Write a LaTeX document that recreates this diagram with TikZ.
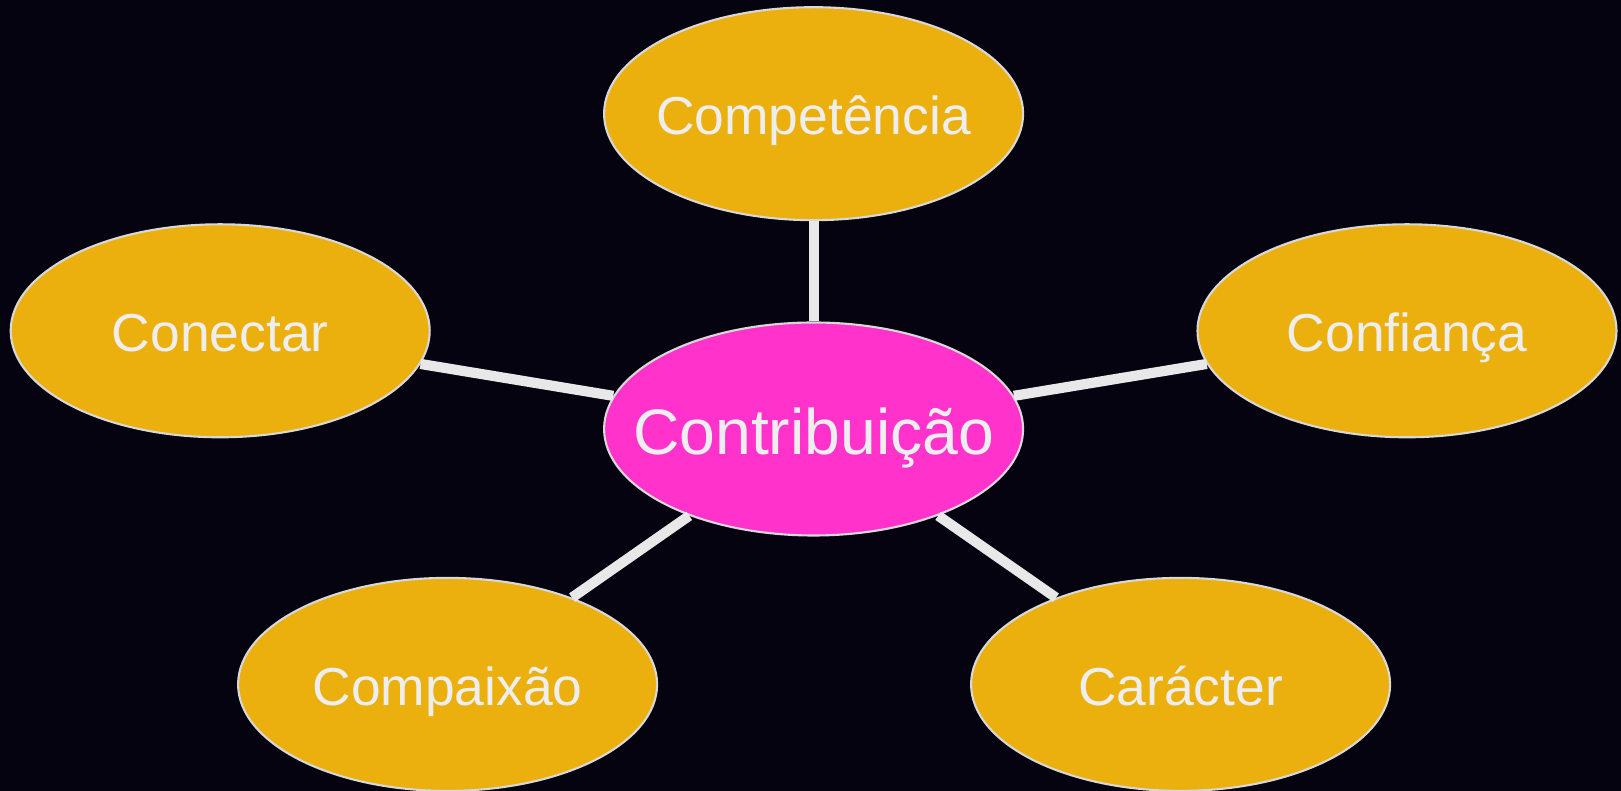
\documentclass[tikz,border=0pt]{standalone}
\usepackage{fontspec}
\setmainfont{Liberation Sans}
\usetikzlibrary{shapes.geometric}
\definecolor{fundo}{HTML}{050310}
\definecolor{ouro}{HTML}{EBB00E}
\definecolor{rosa}{HTML}{FF33CC}
\definecolor{claro}{HTML}{EEEEEE}
\begin{document}
\begin{tikzpicture}[
	bola/.style={ellipse,draw=claro!80!gray,line width=0.6pt,fill=ouro,text=claro,minimum width=4.19cm,minimum height=2.13cm,inner sep=0pt,text height=11.9pt,text depth=0pt,
		execute at begin node={\hbox to 0pt\bgroup\hss},execute at end node={\hss\egroup},font=\fontsize{15.2pt}{18pt}\selectfont},
	meio/.style={bola,fill=rosa,text height=14.6pt,font=\fontsize{18.3pt}{22pt}\selectfont},
	liga/.style={draw=claro!95!gray,line width=2.9pt}]
	\fill[fundo] (0,0) rectangle (16.21,7.91);
	\useasboundingbox (0,0) rectangle (16.21,7.91);
	\node[meio] (contrib) at (8.136,3.62) {Contribuição};
	\node[bola] (compet) at (8.136,6.773) {Competência};
	\node[bola] (conect) at (2.202,4.602) {Conectar};
	\node[bola] (confia) at (14.07,4.602) {Confiança};
	\node[bola] (compai) at (4.476,1.066) {Compaixão};
	\node[bola] (carac) at (11.806,1.066) {Carácter};
	\draw[liga] (contrib) -- (compet);
	\draw[liga] (contrib) -- (conect);
	\draw[liga] (contrib) -- (confia);
	\draw[liga] (contrib) -- (compai);
	\draw[liga] (contrib) -- (carac);
\end{tikzpicture}
\end{document}
